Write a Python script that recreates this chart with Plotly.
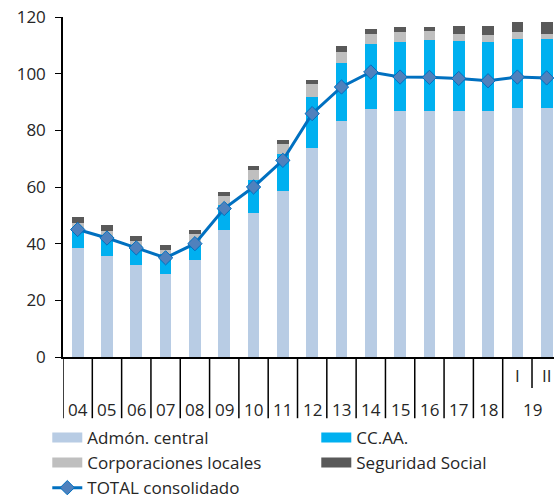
import plotly.graph_objects as go

# one entry per bar: year group and sub-period
years = ["04", "05", "06", "07", "08", "09", "10", "11", "12", "13",
         "14", "15", "16", "17", "18", "19", "19"]
periods = [""] * 15 + ["I", "II"]

admon_central = [38.5, 35.5, 32.4, 29.4, 34.1, 45.0, 51.0, 58.5, 73.9, 83.4,
                 87.4, 86.7, 86.7, 86.8, 86.8, 87.9, 87.9]
ccaa = [6.7, 6.9, 6.8, 7.1, 6.2, 8.5, 11.4, 13.3, 17.9, 20.4,
        23.0, 24.5, 25.1, 24.8, 24.4, 24.2, 24.2]
corp_locales = [2.0, 2.0, 1.7, 1.4, 3.2, 3.3, 3.5, 3.5, 4.5, 3.9,
                3.5, 3.5, 3.1, 2.5, 2.6, 2.6, 2.0]
seg_social = [2.2, 2.1, 1.7, 1.5, 1.5, 1.4, 1.5, 1.4, 1.6, 2.1,
              1.9, 1.6, 1.4, 2.6, 2.9, 3.5, 4.1]
total = [45.0, 42.0, 38.5, 35.0, 40.0, 52.4, 60.0, 69.4, 85.9, 95.3,
         100.6, 98.8, 98.7, 98.3, 97.5, 98.8, 98.5]

y_ticks = [0, 20, 40, 60, 80, 100, 120]

FONT = "Open Sans"
TXT = "#262626"

idx = list(range(len(years)))

fig = go.Figure()
bar_series = [
    ("Admón. central", admon_central, "#B8CCE4"),
    ("CC.AA.", ccaa, "#00B0F0"),
    ("Corporaciones locales", corp_locales, "#BFBFBF"),
    ("Seguridad Social", seg_social, "#595959"),
]
for name, vals, color in bar_series:
    fig.add_trace(go.Bar(
        x=idx, y=vals, name=name, width=0.4, showlegend=False,
        legendgroup=name, marker=dict(color=color, line=dict(width=0)),
    ))
    # wide swatch for the legend, like the original key
    fig.add_trace(go.Scatter(
        x=[None], y=[None], name=name, mode="lines", legendgroup=name,
        line=dict(color=color, width=13),
    ))

fig.add_trace(go.Scatter(
    x=idx, y=total, name="TOTAL consolidado", mode="lines+markers",
    line=dict(color="#0070C0", width=3),
    marker=dict(symbol="diamond", size=11, color="#4F81BD",
                line=dict(color="#0070C0", width=1)),
))

# x-axis group dividers and labels
shapes = []
annotations = []
for i in idx:
    if i == 0 or years[i] != years[i - 1]:
        shapes.append(dict(type="line", xref="x", yref="paper",
                           x0=i - 0.5, x1=i - 0.5, y0=0, y1=-0.18,
                           line=dict(color="black", width=1.5)))
        members = [j for j in idx if years[j] == years[i]]
        annotations.append(dict(
            x=sum(members) / len(members), y=-0.155, xref="x", yref="paper",
            text=years[i], showarrow=False, yanchor="middle",
            font=dict(family=FONT, size=17, color=TXT)))
    elif periods[i]:
        shapes.append(dict(type="line", xref="x", yref="paper",
                           x0=i - 0.5, x1=i - 0.5, y0=0, y1=-0.091,
                           line=dict(color="black", width=1.5)))
    if periods[i]:
        annotations.append(dict(
            x=i, y=-0.055, xref="x", yref="paper",
            text=periods[i], showarrow=False, yanchor="middle",
            font=dict(family=FONT, size=17, color=TXT)))

fig.update_layout(
    width=554, height=498,
    margin=dict(l=63, r=0, t=17, b=141, autoexpand=False),
    paper_bgcolor="white", plot_bgcolor="white",
    barmode="stack",
    font=dict(family=FONT, size=17, color=TXT),
    showlegend=True,
    legend=dict(
        orientation="h", x=-0.032, y=-0.185, xanchor="left", yanchor="top",
        entrywidth=224, entrywidthmode="pixels", traceorder="normal",
        font=dict(family=FONT, size=17, color=TXT),
        itemwidth=30, bgcolor="rgba(0,0,0,0)",
    ),
    shapes=shapes,
    annotations=annotations,
)
fig.update_xaxes(
    range=[-0.5, 16.25], showticklabels=False, ticks="",
    showline=True, linecolor="black", linewidth=1.5,
    showgrid=False, zeroline=False, automargin=False,
)
fig.update_yaxes(
    range=[0, 120], tickvals=y_ticks, ticks="outside", ticklen=6,
    tickcolor="black", showline=True, linecolor="black", linewidth=1.5,
    showgrid=False, zeroline=False, ticklabelstandoff=6, automargin=False,
    ticklabeloverflow="allow",
    tickfont=dict(family=FONT, size=17, color=TXT),
)

# drop the browser's default page margin so the figure fills the window
fig.write_html(
    "out.html",
    config={"displayModeBar": False},
    post_script="document.body.style.margin = '0';",
)
